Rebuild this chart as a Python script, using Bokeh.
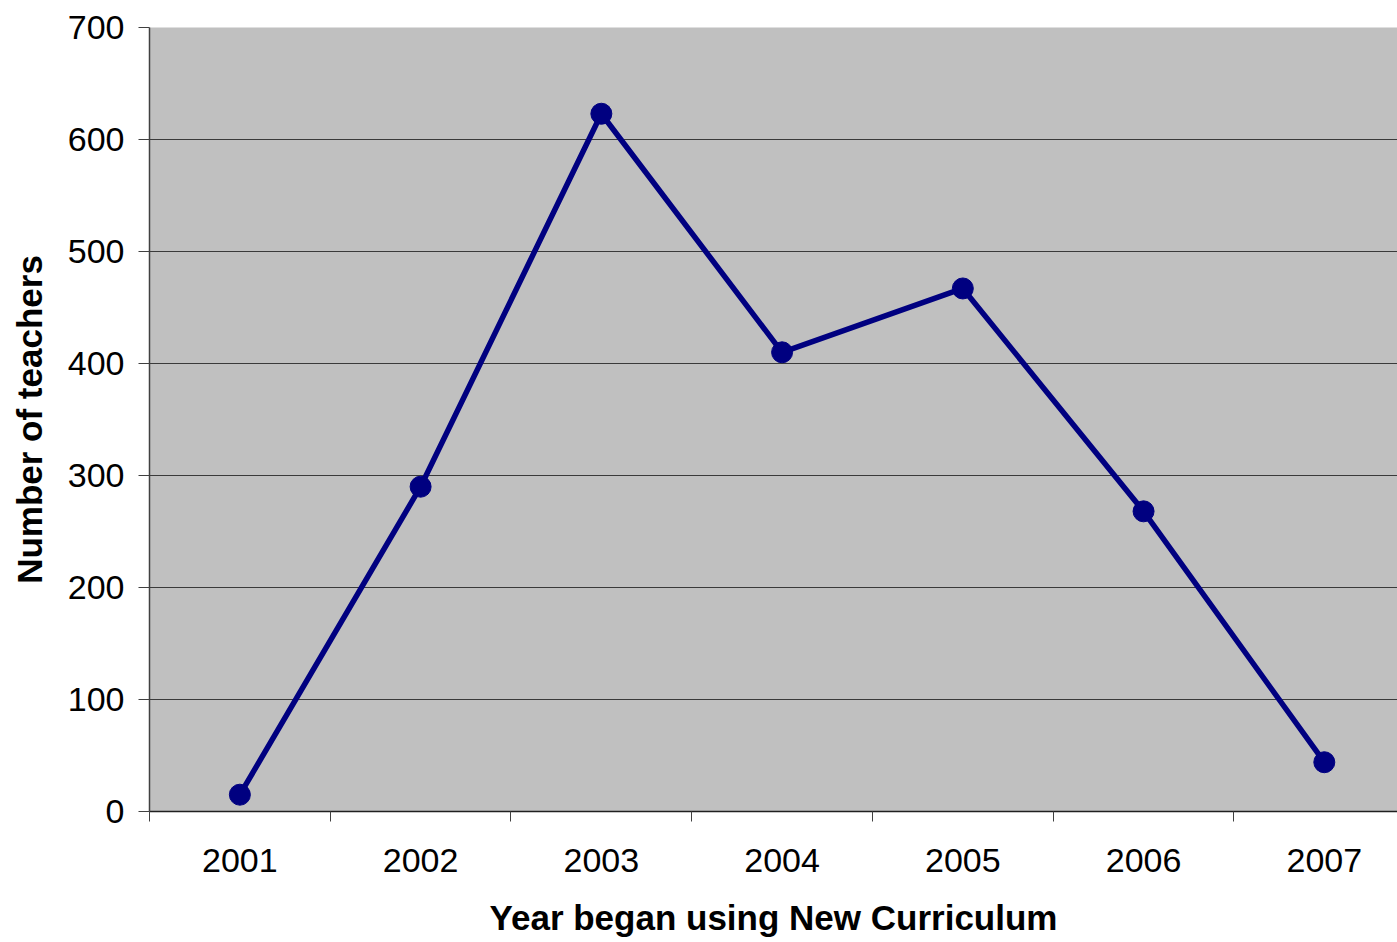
from bokeh.plotting import figure
from bokeh.models import FixedTicker, Range1d
from bokeh.embed import file_html
from bokeh.resources import INLINE

years = ["2001", "2002", "2003", "2004", "2005", "2006", "2007"]
teachers = [15, 290, 623, 410, 467, 268, 44]
y_ticks = [0, 100, 200, 300, 400, 500, 600, 700]

x_pos = [i + 0.5 for i in range(len(years))]

# the right edge of the plot area is cut off in the original picture
p = figure(width=1397, height=940, output_backend="svg", toolbar_location=None,
           x_range=Range1d(0, 6.905), y_range=Range1d(0, 700),
           min_border_left=149, min_border_right=0, min_border_top=27, min_border_bottom=129)

p.background_fill_color = "#c0c0c0"
p.border_fill_color = "white"
p.outline_line_color = None

p.line(x_pos, teachers, line_color="#000080", line_width=5.5)
p.scatter(x_pos, teachers, size=21, fill_color="#000080", line_color="#000080")

font = "Liberation Sans"

xa = p.xaxis[0]
xa.ticker = FixedTicker(ticks=x_pos, minor_ticks=list(range(len(years) + 1)))
xa.major_label_overrides = {x: y for x, y in zip(x_pos, years)}
xa.major_tick_out = 0
xa.major_tick_in = 0
xa.minor_tick_out = 10
xa.minor_tick_in = 0
xa.minor_tick_line_color = "#404040"
xa.axis_line_color = "#202020"
xa.axis_line_width = 1.5
xa.major_label_text_font = font
xa.major_label_text_font_size = "34px"
xa.major_label_text_color = "black"
xa.major_label_standoff = 27
xa.axis_label = "Year began using New Curriculum"
xa.axis_label_text_font = font
xa.axis_label_text_font_size = "35px"
xa.axis_label_text_font_style = "bold"
xa.axis_label_text_color = "black"
xa.axis_label_standoff = 23

ya = p.yaxis[0]
ya.ticker = FixedTicker(ticks=y_ticks)
ya.major_tick_out = 11
ya.major_tick_in = 0
ya.minor_tick_out = 0
ya.minor_tick_in = 0
ya.major_tick_line_color = "#404040"
ya.axis_line_color = "#404040"
ya.axis_line_width = 1.5
ya.major_label_text_font = font
ya.major_label_text_font_size = "34px"
ya.major_label_text_color = "black"
ya.major_label_standoff = 14
ya.axis_label = "Number of teachers"
ya.axis_label_text_font = font
ya.axis_label_text_font_size = "35px"
ya.axis_label_text_font_style = "bold"
ya.axis_label_text_color = "black"
ya.axis_label_standoff = 16

p.xgrid.grid_line_color = None
p.ygrid.ticker = FixedTicker(ticks=y_ticks)
p.ygrid.grid_line_color = "#3a3a3a"
p.ygrid.grid_line_width = 1

open("out.html", "w").write(file_html(p, INLINE))
